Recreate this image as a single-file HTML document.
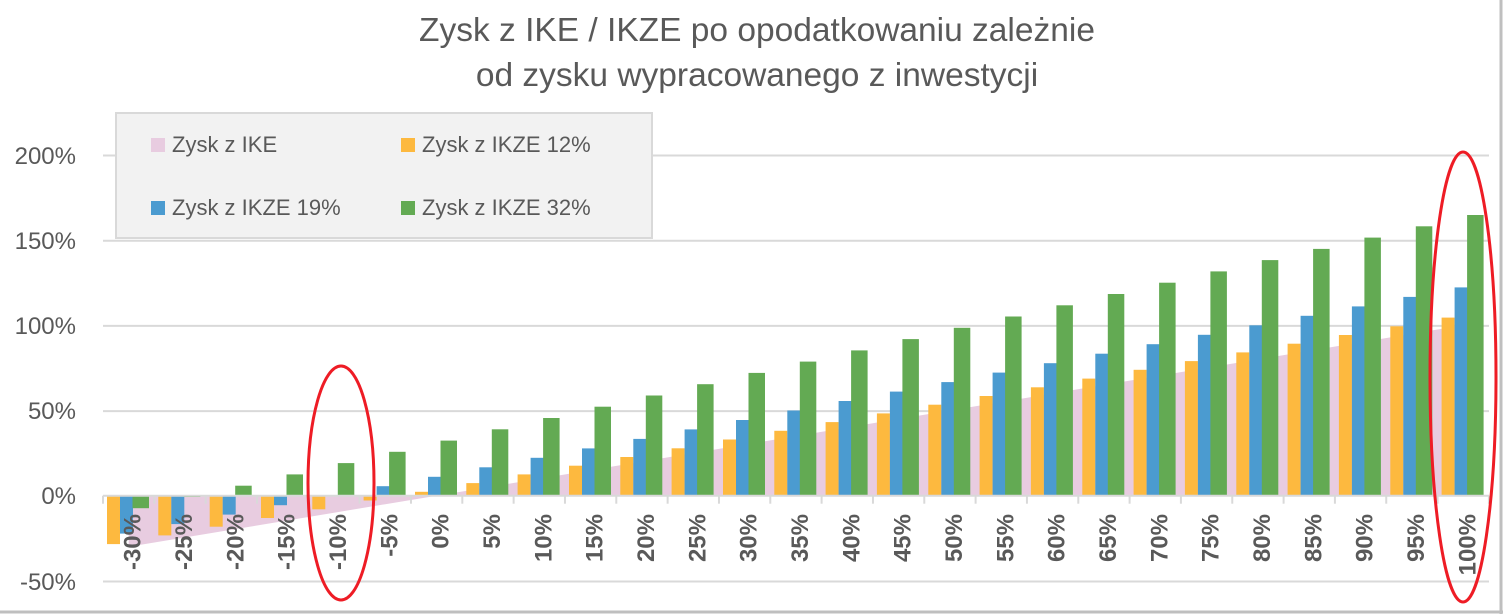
<!DOCTYPE html>
<html><head><meta charset="utf-8"><style>
html,body{margin:0;padding:0;background:#fff}
svg{display:block;font-family:"Liberation Sans",sans-serif}
</style></head><body>
<svg id="c" width="1503" height="614" xmlns="http://www.w3.org/2000/svg">
<rect x="0" y="0" width="1503" height="614" fill="#fff"/>
<line x1="0" y1="612" x2="1503" y2="612" stroke="#bfbfbf" stroke-width="3"/>
<line x1="1501" y1="0" x2="1501" y2="614" stroke="#bfbfbf" stroke-width="3"/>
<text x="757" y="41" text-anchor="middle" font-size="33.5" fill="#595959">Zysk z IKE / IKZE po opodatkowaniu zależnie</text>
<text x="757" y="86" text-anchor="middle" font-size="33.5" fill="#595959">od zysku wypracowanego z inwestycji</text>
<g stroke="#d9d9d9" stroke-width="2">
<line x1="103" y1="155.5" x2="1489" y2="155.5"/>
<line x1="103" y1="240.7" x2="1489" y2="240.7"/>
<line x1="103" y1="325.9" x2="1489" y2="325.9"/>
<line x1="103" y1="411.1" x2="1489" y2="411.1"/>
<line x1="103" y1="581.5" x2="1489" y2="581.5"/>
</g>
<g font-size="24" fill="#595959" text-anchor="end">
<text x="76" y="164">200%</text>
<text x="76" y="249">150%</text>
<text x="76" y="334">100%</text>
<text x="76" y="419">50%</text>
<text x="76" y="504">0%</text>
<text x="76" y="590">-50%</text>
</g>
<g id="bars"></g>
<g id="axis"></g>
<g font-size="24" font-weight="bold" fill="#595959" text-anchor="end" id="xl">
<text transform="translate(140.7,514) rotate(-90)">-30%</text>
<text transform="translate(192,514) rotate(-90)">-25%</text>
<text transform="translate(243.3,514) rotate(-90)">-20%</text>
<text transform="translate(294.7,514) rotate(-90)">-15%</text>
<text transform="translate(346,514) rotate(-90)">-10%</text>
<text transform="translate(397.3,514) rotate(-90)">-5%</text>
<text transform="translate(448.7,514) rotate(-90)">0%</text>
<text transform="translate(500,514) rotate(-90)">5%</text>
<text transform="translate(551.3,514) rotate(-90)">10%</text>
<text transform="translate(602.7,514) rotate(-90)">15%</text>
<text transform="translate(654,514) rotate(-90)">20%</text>
<text transform="translate(705.3,514) rotate(-90)">25%</text>
<text transform="translate(756.7,514) rotate(-90)">30%</text>
<text transform="translate(808,514) rotate(-90)">35%</text>
<text transform="translate(859.3,514) rotate(-90)">40%</text>
<text transform="translate(910.7,514) rotate(-90)">45%</text>
<text transform="translate(962,514) rotate(-90)">50%</text>
<text transform="translate(1013.3,514) rotate(-90)">55%</text>
<text transform="translate(1064.7,514) rotate(-90)">60%</text>
<text transform="translate(1116,514) rotate(-90)">65%</text>
<text transform="translate(1167.3,514) rotate(-90)">70%</text>
<text transform="translate(1218.7,514) rotate(-90)">75%</text>
<text transform="translate(1270,514) rotate(-90)">80%</text>
<text transform="translate(1321.3,514) rotate(-90)">85%</text>
<text transform="translate(1372.7,514) rotate(-90)">90%</text>
<text transform="translate(1424,514) rotate(-90)">95%</text>
<text transform="translate(1475.3,514) rotate(-90)">100%</text>
</g>
<rect x="116" y="113" width="536" height="125" fill="#f2f2f2" stroke="#d9d9d9" stroke-width="2"/>
<g font-size="22" fill="#595959">
<rect x="151" y="138" width="14" height="14" fill="#e8cce0"/><text x="172" y="152">Zysk z IKE</text>
<rect x="401" y="138" width="14" height="14" fill="#fdb93f"/><text x="422" y="152">Zysk z IKZE 12%</text>
<rect x="151" y="201" width="14" height="14" fill="#4b9bd0"/><text x="172" y="215">Zysk z IKZE 19%</text>
<rect x="401" y="201" width="14" height="14" fill="#63aa53"/><text x="422" y="215">Zysk z IKZE 32%</text>
</g>
<ellipse cx="341" cy="483" rx="33" ry="117" fill="none" stroke="#ee1c25" stroke-width="3"/>
<ellipse cx="1463" cy="377" rx="33" ry="225" fill="none" stroke="#ee1c25" stroke-width="3"/>
<script>
(function(){
var ns="http://www.w3.org/2000/svg";
var bars=document.getElementById('bars'),axis=document.getElementById('axis');
function Y(v){return 495.7-v*1.704;}
function el(p,t,a){var e=document.createElementNS(ns,t);for(var k in a)e.setAttribute(k,a[k]);p.appendChild(e);return e;}
var step=51.33,x0=103;
var pts=[];
for(var k=0;k<27;k++){var x=-30+5*k;var c=x0+step*k+step/2;pts.push(c.toFixed(1)+','+Y(x).toFixed(1));}
var d='M'+(x0+step/2)+','+Y(0)+' L'+pts.join(' L')+' L'+(x0+step*26.5)+','+Y(0)+' Z';
el(bars,'path',{d:d,fill:'#e8cce0'});
var rs=[0.12,0.19,0.32],cols=['#fdb93f','#4b9bd0','#63aa53'],offs=[4,17,29.5],ws=[13,13,16.5];
for(var k=0;k<27;k++){
 var x=(-30+5*k)/100;
 for(var i=0;i<3;i++){
  var v=(1/(1-rs[i])*(1+x)*0.9-1)*100;
  var y1=Y(v),y0=Y(0);
  var top=Math.min(y1,y0),h=Math.abs(y1-y0);
  el(bars,'rect',{x:(x0+step*k+offs[i]).toFixed(1),y:top.toFixed(1),width:ws[i],height:Math.max(h,0.5).toFixed(1),fill:cols[i]});
 }
}
el(axis,'line',{x1:x0,y1:Y(0),x2:1489,y2:Y(0),stroke:'#d9d9d9','stroke-width':2});
for(var k=0;k<=27;k++){var tx=x0+step*k;el(axis,'line',{x1:tx,y1:Y(0),x2:tx,y2:Y(0)+8,stroke:'#d9d9d9','stroke-width':2});}
})();
</script>
</svg>
</body></html>
